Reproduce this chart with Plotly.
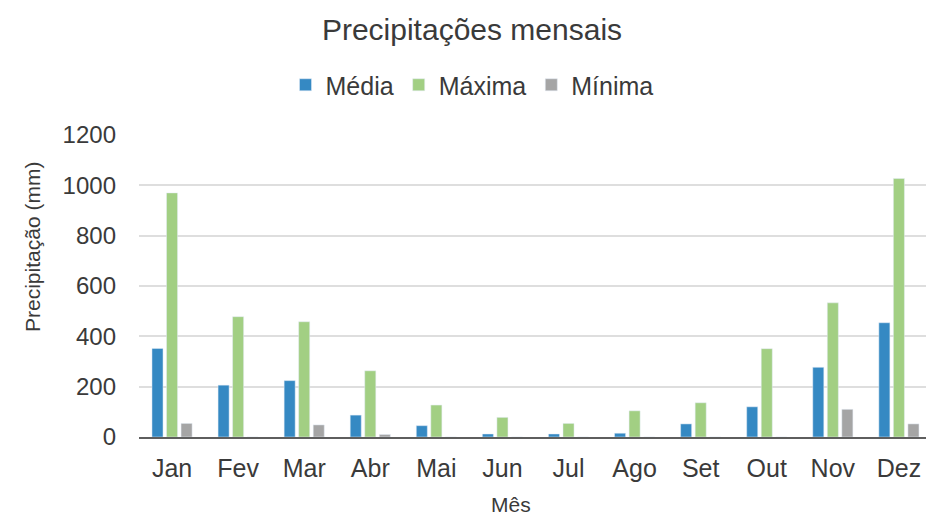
import plotly.graph_objects as go

# Monthly precipitation (mm)
meses = ["Jan", "Fev", "Mar", "Abr", "Mai", "Jun", "Jul", "Ago", "Set", "Out", "Nov", "Dez"]
media = [352, 206, 224, 87, 45, 12, 12, 15, 52, 120, 277, 454]
maxima = [970, 478, 458, 263, 127, 78, 54, 104, 136, 351, 533, 1027]
minima = [54, 0, 48, 10, 0, 0, 0, 0, 0, 0, 110, 52]

cor_media = "#3589C3"
cor_maxima = "#A2CF83"
cor_minima = "#A5A5A5"
cor_texto = "#3A3A3A"

W, H = 926, 519
ML, MR, MT, MB = 139, 0, 135, 82
plot_w = W - ML - MR
plot_h = H - MT - MB

fig = go.Figure()
fig.add_trace(go.Bar(x=meses, y=media, name="Média", marker_color=cor_media))
fig.add_trace(go.Bar(x=meses, y=maxima, name="Máxima", marker_color=cor_maxima))
fig.add_trace(go.Bar(x=meses, y=minima, name="Mínima", marker_color=cor_minima))

fig.update_layout(
    width=W,
    height=H,
    margin=dict(l=ML, r=MR, t=MT, b=MB),
    paper_bgcolor="white",
    plot_bgcolor="white",
    font=dict(family="Liberation Sans, Arial, sans-serif", color=cor_texto),
    barmode="group",
    bargap=0.34,
    bargroupgap=0.24,
    title=dict(
        text="Precipitações mensais",
        x=472 / W,
        xref="container",
        xanchor="center",
        y=1 - 29 / H,
        yref="container",
        yanchor="middle",
        font=dict(size=30, color=cor_texto),
    ),
    legend=dict(
        orientation="h",
        x=472 / W,
        xref="container",
        xanchor="center",
        y=1 - 85 / H,
        yref="container",
        yanchor="middle",
        font=dict(size=25, color=cor_texto),
        itemwidth=30,
        tracegroupgap=0,
    ),
    showlegend=True,
)

fig.update_xaxes(
    range=[-0.5, 11.41],
    showline=True,
    linecolor="#5E5E5E",
    linewidth=2,
    showgrid=False,
    tickfont=dict(size=25, color=cor_texto),
    ticks="",
    ticklabelstandoff=8,
)

fig.update_yaxes(
    range=[0, 1200],
    dtick=200,
    showgrid=True,
    gridcolor="#DEDEDE",
    gridwidth=1.5,
    zeroline=False,
    showline=False,
    tickfont=dict(size=24, color=cor_texto),
    ticklabelstandoff=22,
)

# axis titles, placed where they sit in the layout
fig.add_annotation(
    text="Mês",
    x=(511 - ML) / plot_w,
    xref="paper",
    y=(H - MB - 504) / plot_h,
    yref="paper",
    xanchor="center",
    yanchor="middle",
    showarrow=False,
    font=dict(size=21, color=cor_texto),
)
fig.add_annotation(
    text="Precipitação (mm)",
    x=(32 - ML) / plot_w,
    xref="paper",
    y=(H - MB - 247) / plot_h,
    yref="paper",
    xanchor="center",
    yanchor="middle",
    textangle=-90,
    showarrow=False,
    font=dict(size=21, color=cor_texto),
)

fig.write_html("out.html")
